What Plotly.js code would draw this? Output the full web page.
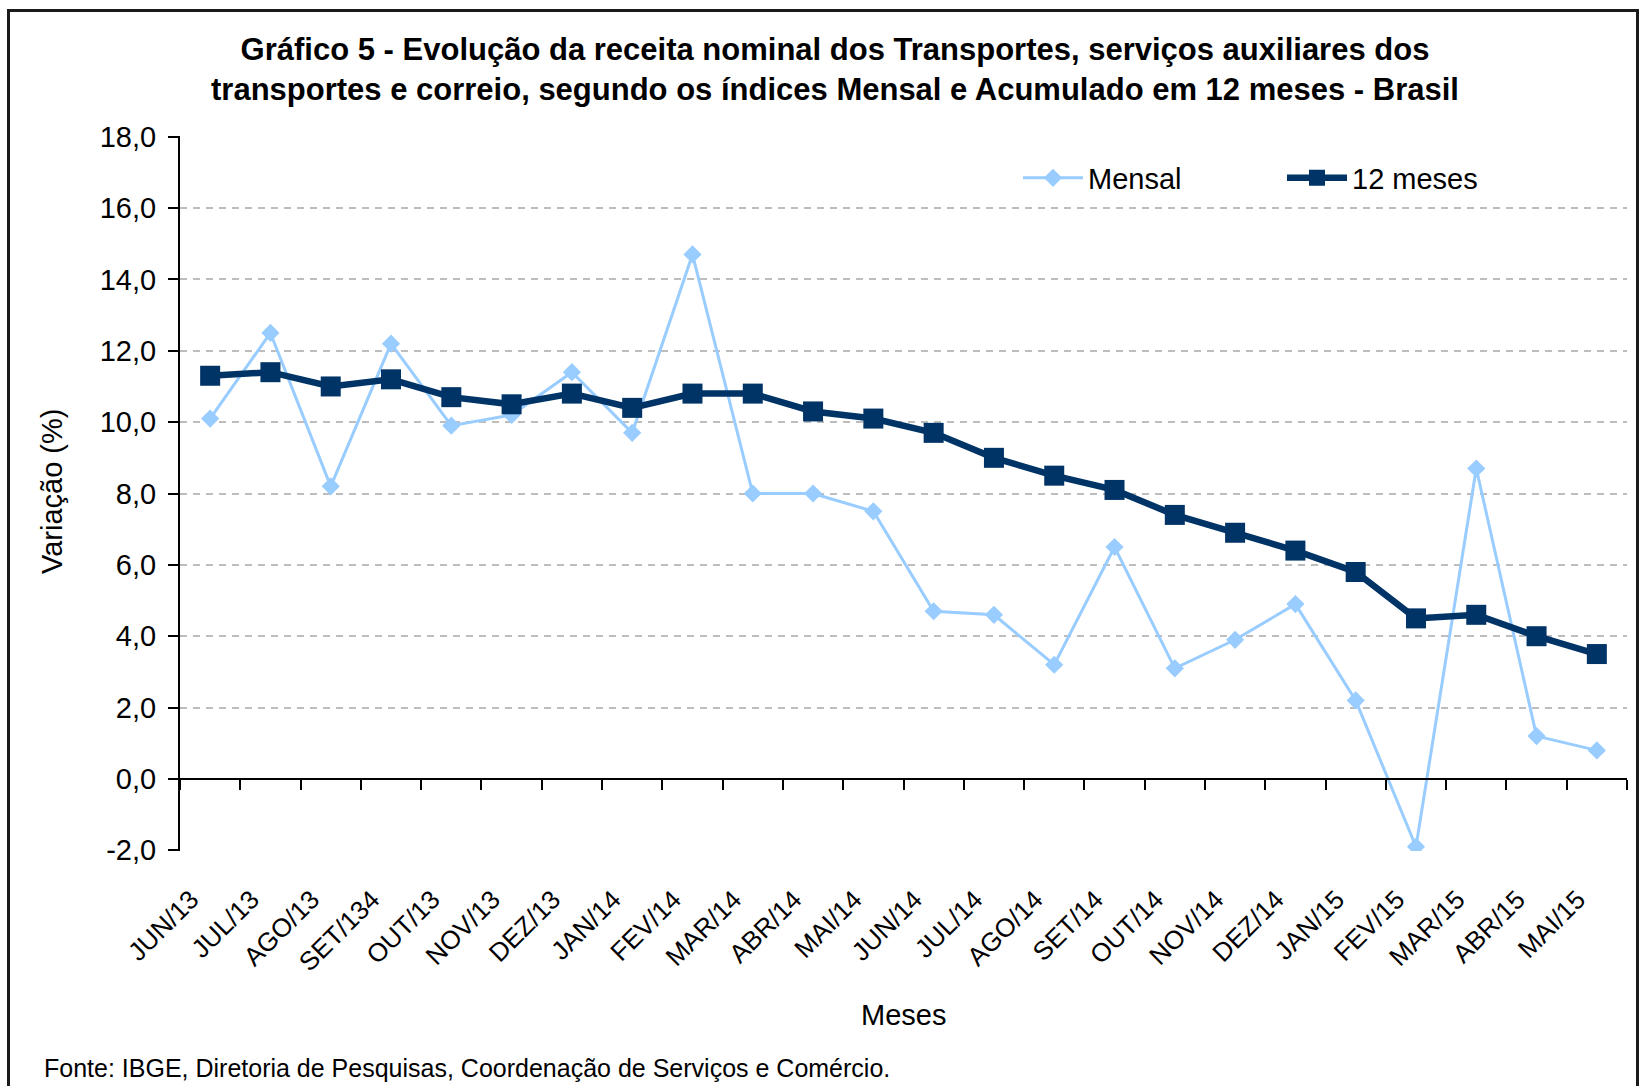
<!DOCTYPE html>
<html>
<head>
<meta charset="utf-8">
<script src="https://cdn.plot.ly/plotly-3.0.1.min.js"></script>
<style>
html,body{margin:0;padding:0;background:#fff;}
#wrap{position:relative;width:1641px;height:1086px;overflow:hidden;}
#chart{width:1641px;height:1086px;}
#frame{position:absolute;left:7px;top:9px;width:1626px;height:1100px;border:3px solid #1a1a1a;pointer-events:none;}
</style>
</head>
<body>
<div id="wrap"><div id="chart"></div><div id="frame"></div></div>
<script>
const months = ["JUN/13","JUL/13","AGO/13","SET/134","OUT/13","NOV/13","DEZ/13","JAN/14","FEV/14","MAR/14","ABR/14","MAI/14","JUN/14","JUL/14","AGO/14","SET/14","OUT/14","NOV/14","DEZ/14","JAN/15","FEV/15","MAR/15","ABR/15","MAI/15"];
const mensal = [10.1, 12.5, 8.2, 12.2, 9.9, 10.2, 11.4, 9.7, 14.7, 8.0, 8.0, 7.5, 4.7, 4.6, 3.2, 6.5, 3.1, 3.9, 4.9, 2.2, -1.9, 8.7, 1.2, 0.8];
const acumulado12 = [11.3, 11.4, 11.0, 11.2, 10.7, 10.5, 10.8, 10.4, 10.8, 10.8, 10.3, 10.1, 9.7, 9.0, 8.5, 8.1, 7.4, 6.9, 6.4, 5.8, 4.5, 4.6, 4.0, 3.5];
const yTickVals = [-2, 0, 2, 4, 6, 8, 10, 12, 14, 16, 18];
const yTickText = ["-2,0", "0,0", "2,0", "4,0", "6,0", "8,0", "10,0", "12,0", "14,0", "16,0", "18,0"];
const seriesNames = ["Mensal", "12 meses"];
const titleText = "Gráfico 5 - Evolução da receita nominal dos Transportes, serviços auxiliares dos<br>transportes e correio, segundo os índices Mensal e Acumulado em 12 meses - Brasil";

const FONT = "Liberation Sans, Arial, sans-serif";
const yRange = [-2.02, 18.02];
const xRange = [-0.5, months.length - 0.5];
const zeroPos = (0 - yRange[0]) / (yRange[1] - yRange[0]);
const monthIdx = months.map((m, i) => i);

const traces = [
  {
    x: months, y: mensal, name: seriesNames[0], type: "scatter", mode: "lines+markers",
    line: {color: "#99CCFF", width: 3},
    marker: {symbol: "diamond", size: 14, color: "#99CCFF"},
    xaxis: "x", yaxis: "y"
  },
  {
    x: months, y: acumulado12, name: seriesNames[1], type: "scatter", mode: "lines+markers",
    line: {color: "#003366", width: 6.5},
    marker: {symbol: "square", size: 20, color: "#003366"},
    xaxis: "x", yaxis: "y"
  },
  {
    // carrier for the month-label axis (no visible marks)
    x: monthIdx, y: months.map(() => null), type: "scatter", mode: "lines",
    showlegend: false, hoverinfo: "skip", xaxis: "x2", yaxis: "y"
  }
];

const layout = {
  width: 1641, height: 1086,
  margin: {l: 180, r: 14, t: 136, b: 235},
  paper_bgcolor: "#fff", plot_bgcolor: "#fff",
  font: {family: FONT, color: "#000"},
  showlegend: true,
  title: {
    text: titleText,
    font: {family: FONT, size: 31, weight: "bold", color: "#000"},
    xref: "container", x: 835 / 1641, xanchor: "center",
    yref: "container", y: 1 - 60 / 1086, yanchor: "top"
  },
  xaxis: {
    type: "category", range: xRange,
    anchor: "free", position: zeroPos,
    showline: true, linecolor: "#000", linewidth: 2,
    ticks: "outside", tickson: "boundaries", ticklen: 10, tickwidth: 2, tickcolor: "#000",
    showticklabels: false, showgrid: false, zeroline: false, automargin: false
  },
  xaxis2: {
    overlaying: "x", anchor: "y", side: "bottom",
    type: "linear", range: xRange,
    tickmode: "array", tickvals: monthIdx, ticktext: months,
    tickangle: -45, tickfont: {family: FONT, size: 26, color: "#000"},
    ticklabelstandoff: 27, ticklabelshift: -19,
    showline: false, ticks: "", showgrid: false, zeroline: false, automargin: false
  },
  yaxis: {
    range: yRange, tickmode: "array", tickvals: yTickVals, ticktext: yTickText,
    tickfont: {family: FONT, size: 29, color: "#000"},
    ticklabelstandoff: 6,
    showline: true, linecolor: "#000", linewidth: 2,
    ticks: "outside", ticklen: 10, tickwidth: 2, tickcolor: "#000",
    showgrid: true, gridcolor: "#bdbdbd", gridwidth: 2, griddash: "7px,6px",
    zeroline: false, automargin: false
  },
  legend: {
    orientation: "h", x: (1018 - 180) / 1447, xanchor: "left",
    y: (851 - 178) / 715, yanchor: "middle",
    font: {family: FONT, size: 29, color: "#000"},
    bgcolor: "rgba(0,0,0,0)", entrywidth: 189, entrywidthmode: "pixels",
    itemwidth: 60
  },
  annotations: [
    {text: "Variação (%)", textangle: -90, xref: "paper", yref: "paper",
     x: (52 - 180) / 1447, y: (851 - 492) / 715, xanchor: "center", yanchor: "middle",
     showarrow: false, font: {family: FONT, size: 29, color: "#000"}},
    {text: "Meses", xref: "paper", yref: "paper",
     x: 0.5, y: (851 - 1015) / 715, xanchor: "center", yanchor: "middle",
     showarrow: false, font: {family: FONT, size: 29, color: "#000"}},
    {text: "Fonte: IBGE, Diretoria de Pesquisas, Coordenação de Serviços e Comércio.", xref: "paper", yref: "paper",
     x: (42 - 180) / 1447, y: (851 - 1068) / 715, xanchor: "left", yanchor: "middle",
     showarrow: false, font: {family: FONT, size: 25, color: "#000"}}
  ]
};

Plotly.newPlot("chart", traces, layout, {displayModeBar: false, staticPlot: true});
</script>
</body>
</html>
